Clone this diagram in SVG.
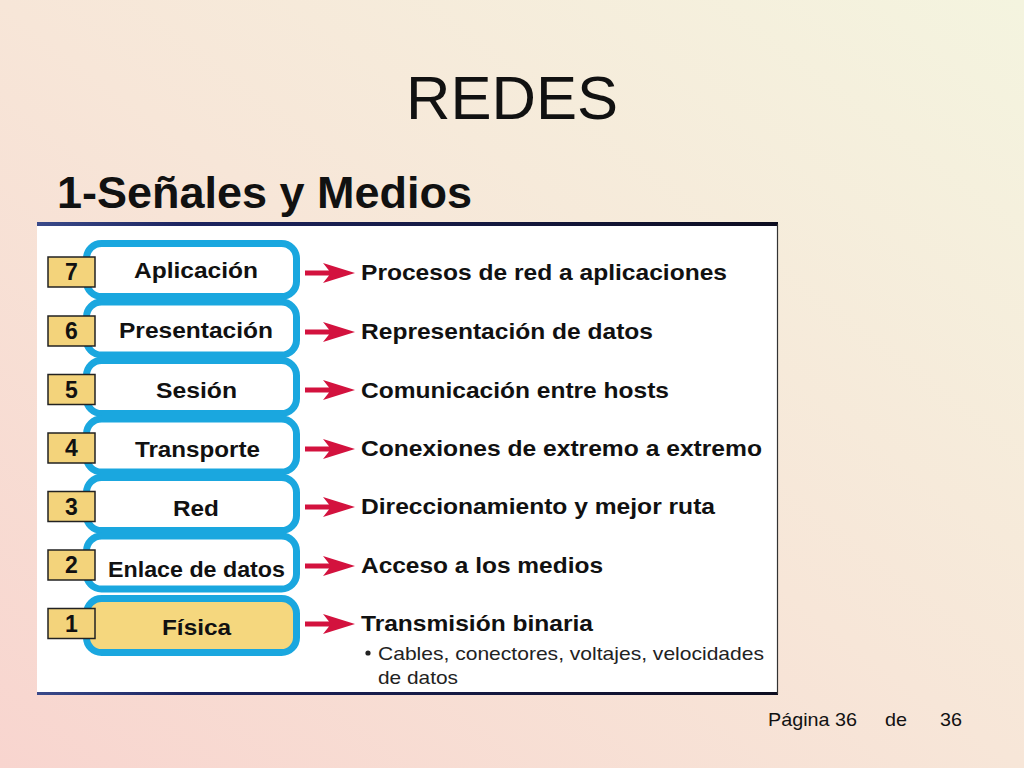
<svg xmlns="http://www.w3.org/2000/svg" xmlns:xlink="http://www.w3.org/1999/xlink" width="1024" height="768" viewBox="0 0 1024 768">
<defs>
<linearGradient id="bg" x1="0" y1="1" x2="1" y2="0">
<stop offset="0" stop-color="#F8D5CF"/>
<stop offset="0.5" stop-color="#F7E6D8"/>
<stop offset="1" stop-color="#F4F4DF"/>
</linearGradient>
<linearGradient id="topline" x1="0" y1="0" x2="1" y2="0">
<stop offset="0" stop-color="#3a4a8a"/>
<stop offset="0.2" stop-color="#1c2460"/>
<stop offset="1" stop-color="#0d0d20"/>
</linearGradient>
<path id="arrow" d="M0,-2.5 L24,-2.5 L18,-10 L50,0 L18,10 L24,2.5 L0,2.5 Z"/>
</defs>
<style>
.lbl{font-family:"Liberation Sans",Arial,sans-serif;font-weight:bold;font-size:21.5px;fill:#111;}
.num{font-family:"Liberation Sans",Arial,sans-serif;font-weight:bold;font-size:23px;fill:#111;text-anchor:middle;}
.desc{font-family:"Liberation Sans",Arial,sans-serif;font-weight:bold;font-size:21.5px;fill:#111;}
.sub{font-family:"Liberation Sans",Arial,sans-serif;font-size:19px;fill:#222;}
.nbox{fill:#F3D37B;stroke:#222;stroke-width:1.5;}
.layer{fill:#fff;stroke:#1AA7DF;stroke-width:7;}
.layer-y{fill:#F5D77E;stroke:#1AA7DF;stroke-width:7;}
.arr{fill:#D3123E;}
.foot{font-family:"Liberation Sans",Arial,sans-serif;font-size:19px;fill:#111;}
</style>
<rect x="0" y="0" width="1024" height="768" fill="url(#bg)"/>
<text x="512" y="119" font-family="Liberation Sans, Arial, sans-serif" font-size="61" fill="#111" text-anchor="middle" textLength="212" lengthAdjust="spacingAndGlyphs">REDES</text>
<text x="57" y="208" font-family="Liberation Sans, Arial, sans-serif" font-size="45" font-weight="bold" fill="#111" textLength="415" lengthAdjust="spacingAndGlyphs">1-Señales y Medios</text>
<g id="panel">
<rect x="37" y="224" width="740" height="470" fill="#fff"/>
<rect x="37" y="222" width="741" height="4" fill="url(#topline)"/>
<rect x="37" y="692" width="741" height="3" fill="url(#topline)"/>
<line x1="777.5" y1="224" x2="777.5" y2="694" stroke="#333" stroke-width="1.2"/>
</g>
<g id="layer7">
<rect class="layer" x="86.5" y="243.5" width="210" height="53" rx="15"/>
<rect class="nbox" x="48" y="257" width="47" height="30"/>
<text class="num" x="71.5" y="280">7</text>
<text class="lbl" x="134" y="278" textLength="124" lengthAdjust="spacingAndGlyphs">Aplicación</text>
<text class="desc" x="361" y="280" textLength="366" lengthAdjust="spacingAndGlyphs">Procesos de red a aplicaciones</text>
</g>
<g id="layer6">
<rect class="layer" x="86.5" y="302" width="210" height="53" rx="15"/>
<rect class="nbox" x="48" y="316" width="47" height="30"/>
<text class="num" x="71.5" y="339">6</text>
<text class="lbl" x="119" y="338" textLength="154" lengthAdjust="spacingAndGlyphs">Presentación</text>
<text class="desc" x="361" y="339" textLength="292" lengthAdjust="spacingAndGlyphs">Representación de datos</text>
</g>
<g id="layer5">
<rect class="layer" x="86.5" y="360.5" width="210" height="53" rx="15"/>
<rect class="nbox" x="48" y="374.5" width="47" height="30"/>
<text class="num" x="71.5" y="397.5">5</text>
<text class="lbl" x="156" y="398" textLength="81" lengthAdjust="spacingAndGlyphs">Sesión</text>
<text class="desc" x="361" y="398" textLength="308" lengthAdjust="spacingAndGlyphs">Comunicación entre hosts</text>
</g>
<g id="layer4">
<rect class="layer" x="86.5" y="419" width="210" height="53" rx="15"/>
<rect class="nbox" x="48" y="433" width="47" height="30"/>
<text class="num" x="71.5" y="456">4</text>
<text class="lbl" x="135" y="457" textLength="125" lengthAdjust="spacingAndGlyphs">Transporte</text>
<text class="desc" x="361" y="456" textLength="401" lengthAdjust="spacingAndGlyphs">Conexiones de extremo a extremo</text>
</g>
<g id="layer3">
<rect class="layer" x="86.5" y="477.5" width="210" height="53" rx="15"/>
<rect class="nbox" x="48" y="491.5" width="47" height="30"/>
<text class="num" x="71.5" y="514.5">3</text>
<text class="lbl" x="173" y="516" textLength="46" lengthAdjust="spacingAndGlyphs">Red</text>
<text class="desc" x="361" y="514" textLength="354" lengthAdjust="spacingAndGlyphs">Direccionamiento y mejor ruta</text>
</g>
<g id="layer2">
<rect class="layer" x="86.5" y="536" width="210" height="53" rx="15"/>
<rect class="nbox" x="48" y="550" width="47" height="30"/>
<text class="num" x="71.5" y="573">2</text>
<text class="lbl" x="108" y="577" textLength="177" lengthAdjust="spacingAndGlyphs">Enlace de datos</text>
<text class="desc" x="361" y="573" textLength="242" lengthAdjust="spacingAndGlyphs">Acceso a los medios</text>
</g>
<g id="layer1">
<rect class="layer-y" x="86.5" y="598.5" width="210" height="54" rx="15"/>
<rect class="nbox" x="48" y="608.5" width="47" height="30"/>
<text class="num" x="71.5" y="631.5">1</text>
<text class="lbl" x="162" y="635" textLength="69" lengthAdjust="spacingAndGlyphs">Física</text>
<text class="desc" x="361" y="631" textLength="232" lengthAdjust="spacingAndGlyphs">Transmisión binaria</text>
<circle cx="368" cy="653" r="2.6" fill="#222"/>
<text class="sub" x="378" y="660" textLength="386" lengthAdjust="spacingAndGlyphs">Cables, conectores, voltajes, velocidades</text>
<text class="sub" x="378" y="684" textLength="80" lengthAdjust="spacingAndGlyphs">de datos</text>
</g>
<g id="connectors" class="arr">
<use xlink:href="#arrow" href="#arrow" x="305" y="273"/>
<use xlink:href="#arrow" href="#arrow" x="305" y="332"/>
<use xlink:href="#arrow" href="#arrow" x="305" y="390"/>
<use xlink:href="#arrow" href="#arrow" x="305" y="449"/>
<use xlink:href="#arrow" href="#arrow" x="305" y="507"/>
<use xlink:href="#arrow" href="#arrow" x="305" y="566"/>
<use xlink:href="#arrow" href="#arrow" x="305" y="624"/>
</g>
<text class="foot" x="768" y="726" textLength="89" lengthAdjust="spacingAndGlyphs">Página 36</text>
<text class="foot" x="885" y="726" textLength="22" lengthAdjust="spacingAndGlyphs">de</text>
<text class="foot" x="940" y="726" textLength="22" lengthAdjust="spacingAndGlyphs">36</text>
</svg>
